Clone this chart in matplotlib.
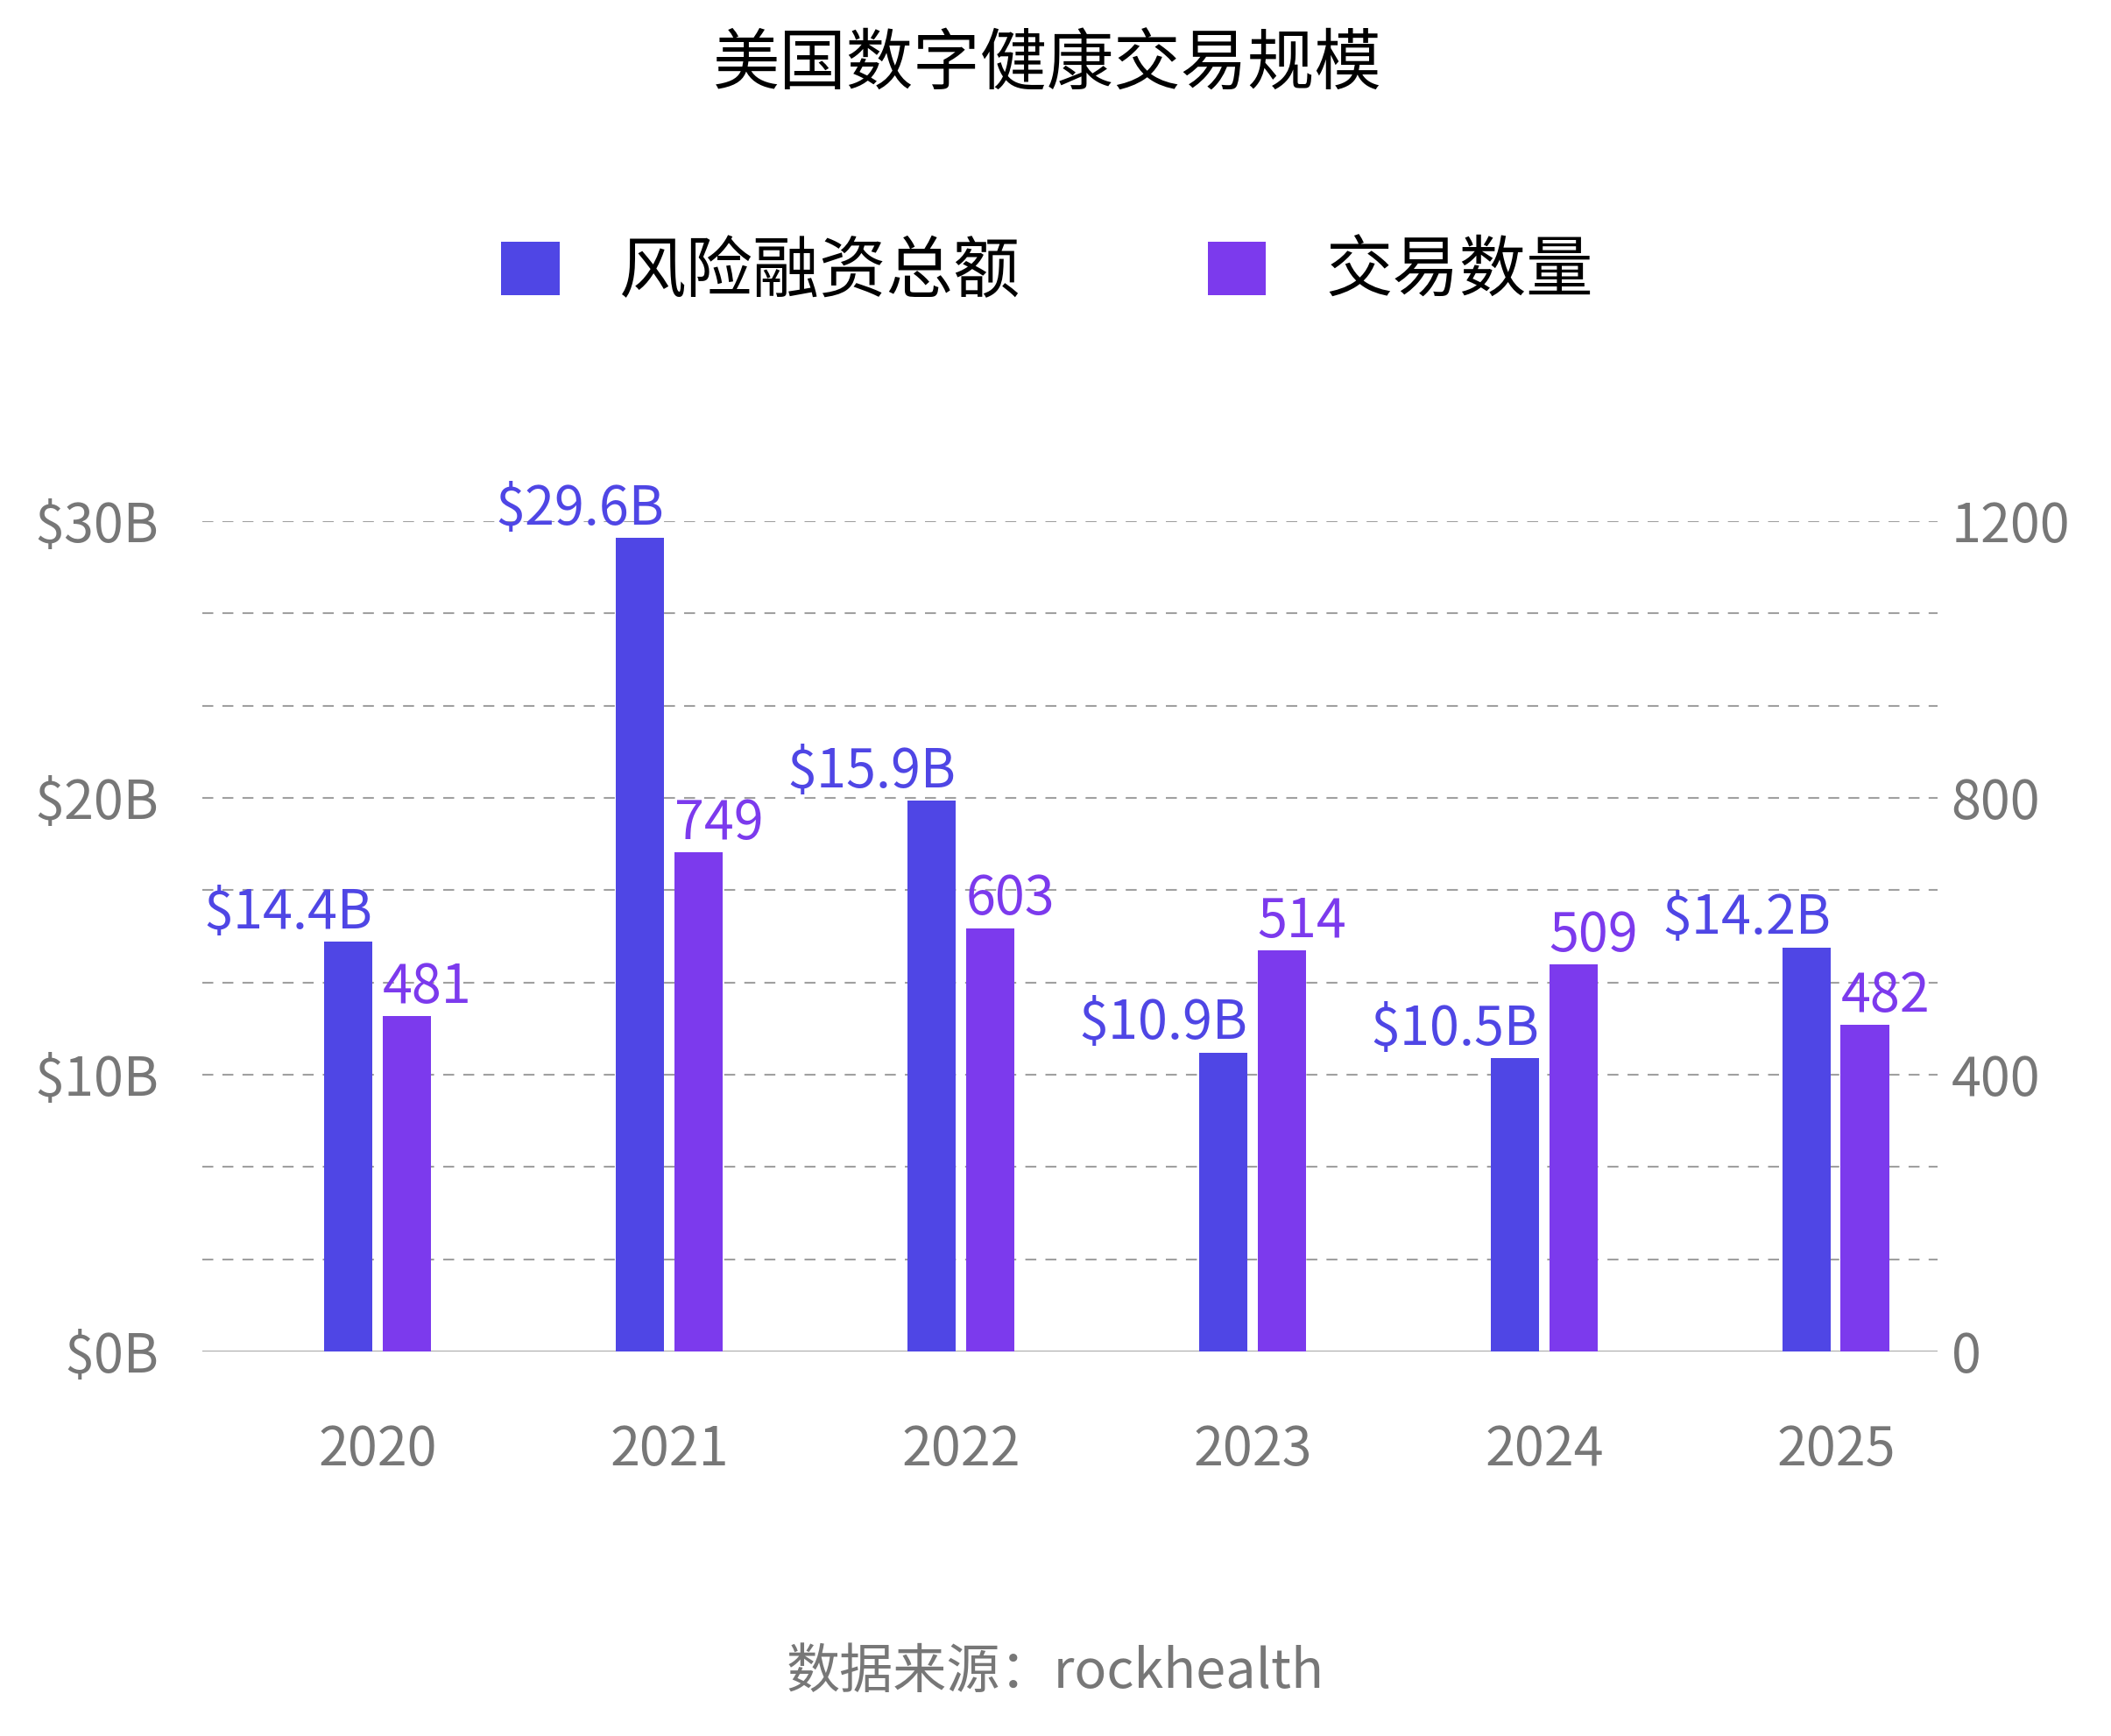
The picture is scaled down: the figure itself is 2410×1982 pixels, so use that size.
import numpy as np
import matplotlib
matplotlib.use("Agg")
import matplotlib.pyplot as plt

plt.rcParams['font.family'] = ['Noto Sans CJK SC', 'DejaVu Sans']

years = ["2020", "2021", "2022", "2023", "2024", "2025"]
# bar heights as drawn in the picture (left axis: $B, right axis: deal count)
funding = [14.8, 29.4, 19.9, 10.8, 10.6, 14.6]
deals = [485, 721, 612, 580, 559, 472]
# value labels as printed on the chart
funding_labels = ["$14.4B", "$29.6B", "$15.9B", "$10.9B", "$10.5B", "$14.2B"]
deal_labels = ["481", "749", "603", "514", "509", "482"]

BLUE = "#4F46E5"
PURPLE = "#7C3AED"
GRAY = "#777777"

fig = plt.figure(figsize=(24.1, 19.82), dpi=100)
ax = fig.add_axes([0.0959, 0.2215, 0.8221, 0.4783])
ax2 = ax.twinx()

x = np.arange(len(years))
w = 0.166
off = 0.1

# dashed grid, 9 intervals
for g in np.linspace(0, 30, 10)[1:]:
    ax.axhline(g, color="#a0a0a0", lw=1.5, ls=(0, (6, 5)), zorder=0)
ax.axhline(0, color="#888888", lw=1.8, zorder=1)

b1 = ax.bar(x - off, funding, w, color=BLUE, zorder=2, label="风险融资总额")
b2 = ax2.bar(x + off, deals, w, color=PURPLE, zorder=2, label="交易数量")

ax.set_xlim(-0.6, 5.35)
ax.set_ylim(0, 30)
ax2.set_ylim(0, 1200)

for xi, v, t in zip(x, funding, funding_labels):
    ax.annotate(t, (xi - off + w / 2, v), xytext=(0, 11), textcoords="offset points",
                ha="right", va="baseline", color=BLUE, fontsize=44)
for xi, v, t in zip(x, deals, deal_labels):
    ax2.annotate(t, (xi + off - w / 2, v), xytext=(0, 11), textcoords="offset points",
                 ha="left", va="baseline", color=PURPLE, fontsize=44)

ax.set_xticks(x)
ax.set_xticklabels(years)
ax.set_yticks([0, 10, 20, 30])
ax.set_yticklabels(["$0B", "$10B", "$20B", "$30B"])
ax2.set_yticks([0, 400, 800, 1200])
ax2.set_yticklabels(["0", "400", "800", "1200"])

ax.tick_params(axis="x", length=0, pad=59, labelsize=44, labelcolor=GRAY)
ax.tick_params(axis="y", length=0, pad=36, labelsize=44, labelcolor=GRAY)
ax2.tick_params(axis="y", length=0, pad=11, labelsize=44, labelcolor=GRAY)

for a in (ax, ax2):
    for s in a.spines.values():
        s.set_visible(False)

fig.text(0.496, 0.962, "美国数字健康交易规模", ha="center", va="center", fontsize=55, color="black")

fig.legend(handles=[b1, b2], loc="center", bbox_to_anchor=(0.496, 0.843), ncol=2,
           frameon=False, fontsize=55, handlelength=0.87, handleheight=0.87,
           handletextpad=0.89, columnspacing=2.8)

fig.text(0.5, 1 - 1910 / 1982, "数据来源：rockhealth", ha="center", va="center",
         fontsize=44, color=GRAY)

fig.savefig("out.png", dpi=100)
